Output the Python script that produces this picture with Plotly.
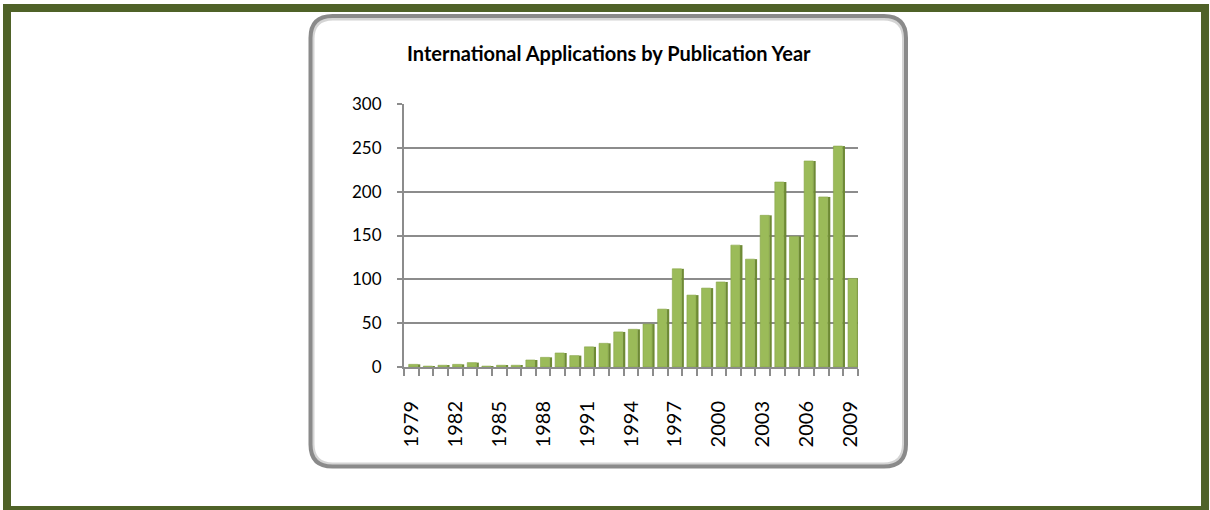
import plotly.graph_objects as go

# ---- data ----
years = list(range(1979, 2010))
applications = [3, 1, 2, 3, 5, 1, 2, 2, 8, 11, 16, 13, 23, 27, 40,
                43, 49, 66, 112, 82, 90, 97, 139, 123, 173, 211, 149,
                235, 194, 252, 101]
tick_years = list(range(1979, 2010, 3))
tick_labels = [str(y) for y in tick_years]
y_ticks = [0, 50, 100, 150, 200, 250, 300]
title_text = "International Applications by Publication Year"

# ---- layout geometry (pixels) ----
W, H = 1210, 510
L, R = 404, 858
T, B = 104, 367


def px(x):
    return (x - L) / (R - L)


def py(y):
    return (B - y) / (B - T)


def rrect(x0, y0, x1, y1, r):
    pts = [
        ("M", [(x0 + r, y0)]),
        ("L", [(x1 - r, y0)]),
        ("Q", [(x1, y0), (x1, y0 + r)]),
        ("L", [(x1, y1 - r)]),
        ("Q", [(x1, y1), (x1 - r, y1)]),
        ("L", [(x0 + r, y1)]),
        ("Q", [(x0, y1), (x0, y1 - r)]),
        ("L", [(x0, y0 + r)]),
        ("Q", [(x0, y0), (x0 + r, y0)]),
    ]
    s = ""
    for cmd, ps in pts:
        s += cmd + " " + " ".join(f"{px(a):.5f},{py(b):.5f}" for a, b in ps) + " "
    return s + "Z"


FONT = "Lato, 'Open Sans', sans-serif"
GRID = "#8C8C8C"

fig = go.Figure()

# side (depth) face of the bars
fig.add_trace(go.Bar(
    x=years, y=applications, width=0.17, offset=0.44,
    marker=dict(color="#6E8A35", line=dict(width=0)),
    hoverinfo="skip", showlegend=False,
))
# front face of the bars
fig.add_trace(go.Bar(
    x=years, y=applications, width=0.62, offset=-0.18,
    marker=dict(color="#9BBB59", line=dict(color="#86A447", width=0.6)),
    showlegend=False,
))

shapes = [
    # panel shadow / bevel
    dict(type="path", xref="paper", yref="paper",
         path=rrect(313, 19, 903.5, 464, 20),
         line=dict(color="#D4D4D4", width=3), layer="below"),
    # panel border
    dict(type="path", xref="paper", yref="paper",
         path=rrect(310.5, 16, 906, 466.5, 22),
         line=dict(color="#8A8A8A", width=4), layer="below"),
    # outer green frame
    dict(type="rect", xref="paper", yref="paper",
         x0=px(7), x1=px(1205), y0=py(8), y1=py(510),
         line=dict(color="#4F6228", width=8), layer="above"),
]

fig.update_layout(
    width=W, height=H,
    margin=dict(l=L, r=W - R, t=T, b=H - B, pad=0),
    paper_bgcolor="white", plot_bgcolor="rgba(0,0,0,0)",
    barmode="overlay",
    font=dict(family=FONT, color="black", size=16),
    shapes=shapes,
    annotations=[dict(
        text=f"<b>{title_text}</b>", xref="paper", yref="paper",
        x=px(609), y=py(53), xanchor="center", yanchor="middle",
        showarrow=False, font=dict(family=FONT, size=20, color="black"),
    )],
    xaxis=dict(
        type="linear", range=[1978.5, 2009.5],
        tickmode="array", tickvals=tick_years, ticktext=tick_labels,
        ticks="", tickangle=-90, ticklabelstandoff=24,
        tickfont=dict(family=FONT, size=20, color="black"),
        showgrid=False, zeroline=False,
        showline=True, linecolor=GRID, linewidth=2,
        minor=dict(ticks="outside", ticklen=7, tickcolor=GRID, tickwidth=2,
                   tick0=1978.5, dtick=1, showgrid=False),
    ),
    yaxis=dict(
        range=[0, 300], tickmode="array", tickvals=y_ticks,
        ticks="outside", ticklen=5, tickcolor=GRID, tickwidth=2,
        ticklabelstandoff=12,
        tickfont=dict(family=FONT, size=17, color="black"),
        showgrid=True, gridcolor=GRID, gridwidth=2,
        zeroline=False, showline=True, linecolor=GRID, linewidth=2,
    ),
)

fig.write_html(
    "out.html",
    config={"displayModeBar": False},
    post_script="document.body.style.margin='0';"
                "document.body.style.padding='0';"
                "document.body.style.overflow='hidden';",
)
